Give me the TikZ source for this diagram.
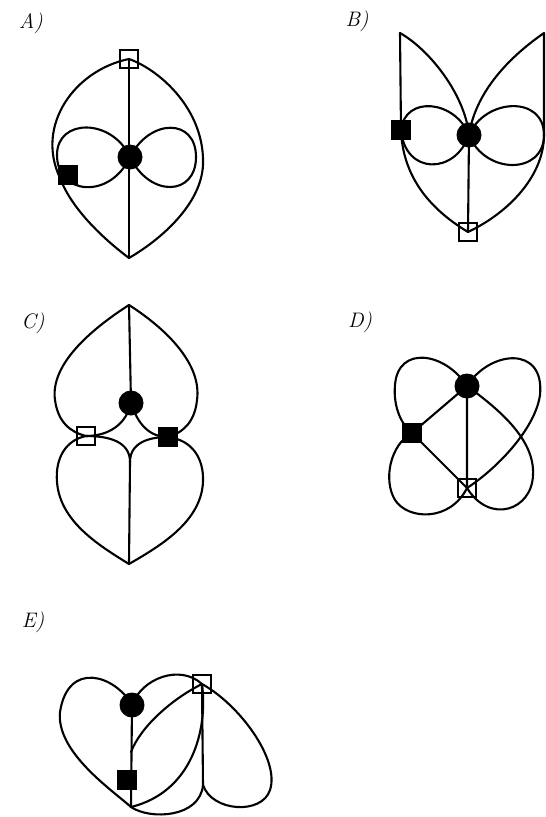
\documentclass[tikz,border=0pt]{standalone}
\pgfdeclarelayer{bg}
\pgfsetlayers{bg,main}
\begin{document}
\begin{tikzpicture}[x=1pt,y=-1pt,
  edge/.style={line width=2.1pt, line join=round, line cap=round},
  dot/.style={circle, fill=black, inner sep=0pt, minimum size=25pt},
  fsq/.style={rectangle, fill=black, inner sep=0pt, minimum size=20pt},
  osq/.style={rectangle, draw=black, line width=1.5pt, inner sep=0pt, minimum size=18pt},
  lab/.style={font=\fontsize{21}{23}\selectfont\itshape}]
\useasboundingbox (0,0) rectangle (546,817);

% labels
\node[lab] (la) at (31,23) {A)};
\node[lab] (lb) at (357,21) {B)};
\node[lab] (lc) at (33,323) {C)};
\node[lab] (ld) at (360,322) {D)};
\node[lab] (le) at (33,622) {E)};

% ---------------- A
\node[osq] (aT) at (129,59) {};
\node[dot] (aC) at (130,157) {};
\node[fsq] (aS) at (68,175) {};
\coordinate (aB) at (129,258);
\coordinate (aL) at (60,178);
\coordinate (aR) at (203,165);
\begin{pgfonlayer}{bg}
\draw[edge] (aT.center) -- (aB);
\draw[edge] (aT.center) .. controls (75,70) and (35,125) .. (aL) .. controls (72,210) and (105,240) .. (aB);
\draw[edge] (aT.center) .. controls (160,70) and (205,110) .. (aR) .. controls (201,205) and (160,240) .. (aB);
\draw[edge] (aC.center) .. controls (112,118) and (57,118) .. (57,155) .. controls (57,195) and (110,200) .. (aC.center);
\draw[edge] (aC.center) .. controls (150,118) and (196,118) .. (196,157) .. controls (196,196) and (150,198) .. (aC.center);
\end{pgfonlayer}

% ---------------- B
\node[dot] (bC) at (469,135) {};
\node[fsq] (bS) at (401,130) {};
\node[osq] (bO) at (468,232) {};
\coordinate (bTL) at (400,33);
\coordinate (bTR) at (544,33);
\coordinate (bR) at (544,135);
\begin{pgfonlayer}{bg}
\draw[edge] (bTL) -- (bS.center);
\draw[edge] (bTL) .. controls (430,50) and (465,95) .. (bC.center);
\draw[edge] (bC.center) .. controls (475,95) and (505,60) .. (bTR) -- (bR);
\draw[edge] (bR) .. controls (544,175) and (510,212) .. (bO.center);
\draw[edge] (bS.center) .. controls (403,185) and (440,215) .. (bO.center);
\draw[edge] (bC.center) -- (bO.center);
\draw[edge] (bC.center) .. controls (455,100) and (405,95) .. (bS.center) .. controls (405,175) and (455,175) .. (bC.center);
\draw[edge] (bC.center) .. controls (485,98) and (544,95) .. (bR) .. controls (544,175) and (485,175) .. (bC.center);
\end{pgfonlayer}

% ---------------- C
\coordinate (cT) at (129,305);
\node[dot] (cC) at (131,403) {};
\node[osq] (cO) at (86,436) {};
\node[fsq] (cS) at (168,437) {};
\coordinate (cD) at (130,462);
\coordinate (cB) at (129,564);
\begin{pgfonlayer}{bg}
\draw[edge] (cT) -- (cC.center);
\draw[edge] (cD) -- (cB);
\draw[edge] (cT) .. controls (90,330) and (50,365) .. (55,400) .. controls (58,422) and (70,432) .. (cO.center)
   .. controls (108,436) and (126,425) .. (cC.center);
\draw[edge] (cT) .. controls (168,330) and (202,365) .. (197,400) .. controls (195,420) and (185,432) .. (cS.center)
   .. controls (150,437) and (138,425) .. (cC.center);
\draw[edge] (cO.center) .. controls (66,440) and (55,458) .. (57,482) .. controls (60,522) and (100,546) .. (cB);
\draw[edge] (cS.center) .. controls (192,440) and (204,458) .. (203,482) .. controls (201,522) and (160,546) .. (cB);
\draw[edge] (cO.center) .. controls (110,436) and (130,442) .. (cD);
\draw[edge] (cS.center) .. controls (150,437) and (130,442) .. (cD);
\end{pgfonlayer}

% ---------------- D
\node[dot] (dC) at (467,386) {};
\node[fsq] (dS) at (412,433) {};
\node[osq] (dO) at (467,488) {};
\begin{pgfonlayer}{bg}
\draw[edge] (dC.center) -- (dS.center) -- (dO.center) -- (dC.center);
\draw[edge] (dC.center) .. controls (445,352) and (398,345) .. (395,385) .. controls (393,408) and (402,425) .. (dS.center);
\draw[edge] (dS.center) .. controls (390,445) and (383,480) .. (395,500) .. controls (408,520) and (450,522) .. (dO.center);
\draw[edge] (dC.center) .. controls (490,350) and (545,345) .. (540,395) .. controls (535,430) and (495,470) .. (dO.center);
\draw[edge] (dC.center) .. controls (500,410) and (535,440) .. (533,475) .. controls (532,510) and (490,525) .. (dO.center);
\end{pgfonlayer}

% ---------------- E
\node[dot] (eC) at (132,705) {};
\node[fsq] (eS) at (127,780) {};
\node[osq] (eO) at (202,684) {};
\coordinate (eB) at (131,807);
\coordinate (eV) at (203,785);
\coordinate (eJ) at (131,752);
\begin{pgfonlayer}{bg}
\draw[edge] (eC.center) -- (eB);
\draw[edge] (eO.center) -- (eV);
\draw[edge] (eC.center) .. controls (115,675) and (68,660) .. (60,712) .. controls (56,752) and (112,790) .. (eB);
\draw[edge] (eC.center) .. controls (142,678) and (180,664) .. (eO.center);
\draw[edge] (eO.center) .. controls (170,700) and (140,728) .. (eJ);
\draw[edge] (eO.center) .. controls (208,730) and (192,792) .. (eB);
\draw[edge] (eB) .. controls (150,820) and (200,818) .. (eV);
\draw[edge] (eO.center) .. controls (240,705) and (280,760) .. (270,790) .. controls (262,815) and (212,812) .. (eV);
\end{pgfonlayer}
\end{tikzpicture}
\end{document}
